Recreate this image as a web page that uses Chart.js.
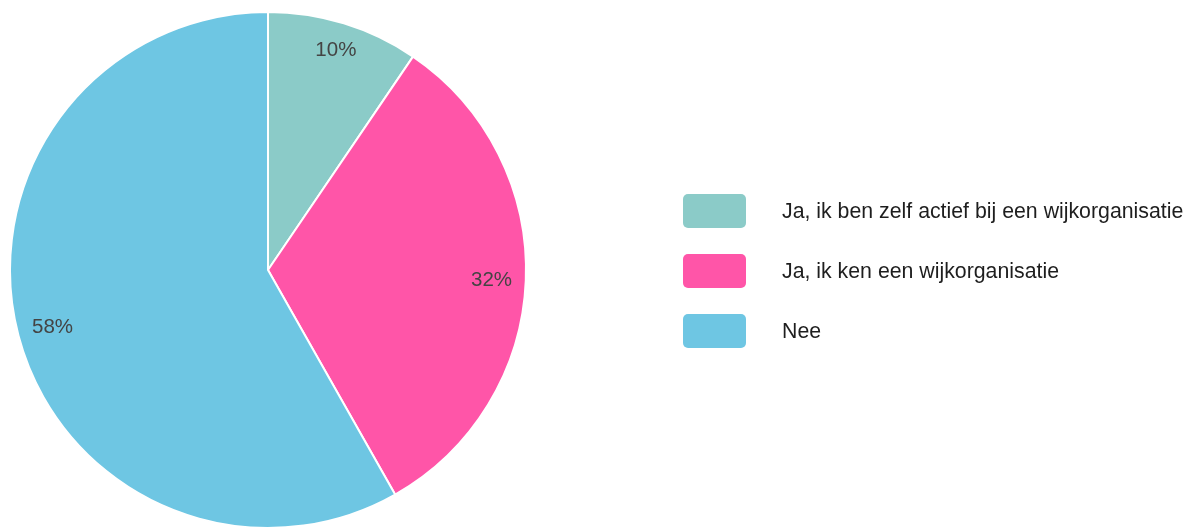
<!DOCTYPE html>
<html>
<head>
<meta charset="utf-8">
<script src="https://cdn.jsdelivr.net/npm/chart.js@4"></script>
<style>
html,body{margin:0;padding:0;background:#fff;}
#wrap{width:1195px;height:530px;position:relative;}
</style>
</head>
<body>
<div id="wrap"><canvas id="c" width="1195" height="530"></canvas></div>
<script>
const categories = ["Ja, ik ben zelf actief bij een wijkorganisatie", "Ja, ik ken een wijkorganisatie", "Nee"];
const values = [9.5, 32.3, 58.2];
const colors = ["#8BCBC8", "#FF55A8", "#6EC6E3"];

const sliceLabels = {
  id: 'sliceLabels',
  afterDatasetsDraw(chart) {
    const ctx = chart.ctx;
    const meta = chart.getDatasetMeta(0);
    const data = chart.data.datasets[0].data;
    const total = data.reduce((a, b) => a + b, 0);
    const fs = 20.5;
    ctx.save();
    ctx.font = fs + 'px "Liberation Sans", Arial, sans-serif';
    ctx.fillStyle = '#444444';
    ctx.textAlign = 'center';
    ctx.textBaseline = 'middle';
    meta.data.forEach((arc, i) => {
      const p = arc.getProps(['x', 'y', 'startAngle', 'endAngle', 'outerRadius'], true);
      const txt = Math.round(data[i] / total * 100) + '%';
      const hw = ctx.measureText(txt).width / 2;
      const hh = fs * 0.36;
      const mid = (p.startAngle + p.endAngle) / 2;
      const ux = Math.cos(mid), uy = Math.sin(mid);
      const cx = Math.sign(ux) * hw, cy = Math.sign(uy) * hh;
      const Rc = p.outerRadius * 0.948;
      const uc = ux * cx + uy * cy;
      const d = -uc + Math.sqrt(uc * uc - (cx * cx + cy * cy) + Rc * Rc);
      ctx.fillText(txt, p.x + ux * d, p.y + uy * d + 1);
    });
    ctx.restore();
  }
};

const customLegend = {
  id: 'customLegend',
  afterDraw(chart) {
    const ctx = chart.ctx;
    const labels = chart.data.labels;
    const bg = chart.data.datasets[0].backgroundColor;
    const boxX = 683, boxW = 63, boxH = 34, rowGap = 60;
    const firstCenter = 211;
    ctx.save();
    ctx.font = '21.3px "Liberation Sans", Arial, sans-serif';
    ctx.textBaseline = 'middle';
    ctx.textAlign = 'left';
    labels.forEach((lab, i) => {
      const cy = firstCenter + i * rowGap;
      ctx.fillStyle = bg[i];
      ctx.beginPath();
      ctx.roundRect(boxX, cy - boxH / 2, boxW, boxH, 5);
      ctx.fill();
      ctx.fillStyle = '#1e1e1e';
      ctx.fillText(lab, 782, cy + 1);
    });
    ctx.restore();
  }
};

new Chart(document.getElementById('c'), {
  type: 'pie',
  data: {
    labels: categories,
    datasets: [{
      data: values,
      backgroundColor: colors,
      borderColor: '#ffffff',
      borderWidth: 2,
      hoverOffset: 0
    }]
  },
  options: {
    responsive: false,
    animation: false,
    layout: { padding: { top: 11, bottom: 1, left: 9, right: 668 } },
    plugins: {
      legend: { display: false },
      tooltip: { enabled: false }
    }
  },
  plugins: [sliceLabels, customLegend]
});
</script>
</body>
</html>
